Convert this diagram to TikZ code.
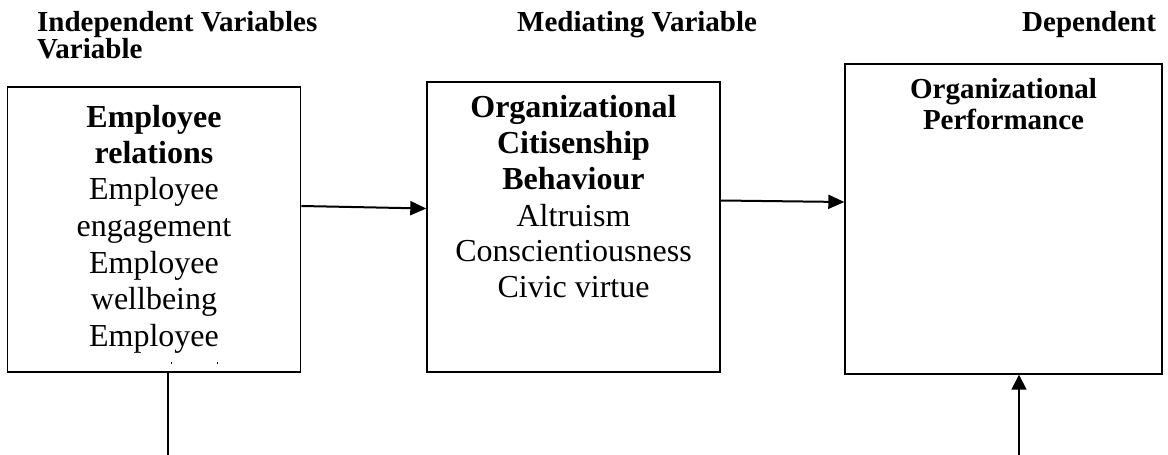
\documentclass[tikz,border=0pt]{standalone}
\usepackage{fontspec}
\setmainfont{Liberation Serif}
\usetikzlibrary{arrows.meta}
\begin{document}
\begin{tikzpicture}[x=1pt,y=-1pt,
  box/.style={draw,line width=1.4pt,inner sep=0pt,minimum width=#1},
  heading/.style={font=\bfseries\fontsize{29}{26}\selectfont,inner sep=0pt,anchor=base west},
  boxline/.style={font=\fontsize{32}{36}\selectfont,inner sep=0pt,anchor=base},
  boxbold/.style={font=\bfseries\fontsize{32}{36}\selectfont,inner sep=0pt,anchor=base},
  smallbold/.style={font=\bfseries\fontsize{29}{31}\selectfont,inner sep=0pt,anchor=base},
  link/.style={line width=2pt,-{Triangle[length=16pt,width=14pt]}},
  feed/.style={line width=1.5pt}]
\useasboundingbox (0,0) rectangle (1168,455);
% headings
\node[heading] (h1) at (37,31) {Independent Variables};
\node[heading] (h1b) at (37,58.5) {Variable};
\node[heading] (h2) at (517,31) {Mediating Variable};
\node[heading] (h3) at (1022,31) {Dependent};
% boxes
\node[box=293pt,minimum height=285pt] (b1) at (154.25,229.5) {};
\node[box=293pt,minimum height=290pt] (b2) at (573.5,227) {};
\node[box=317pt,minimum height=310pt] (b3) at (1003.5,219) {};
% box 1 text
\node[boxbold] (t11) at (154,127) {Employee};
\node[boxbold] (t12) at (154,163) {relations};
\node[boxline] (t13) at (154,199) {Employee};
\node[boxline] (t14) at (154,236) {engagement};
\node[boxline] (t15) at (154,273) {Employee};
\node[boxline] (t16) at (154,309) {wellbeing};
\node[boxline] (t17) at (154,346) {Employee};
\fill (170.5,362) rectangle (172,363.5);
\fill (216.5,362) rectangle (218,363.5);
% box 2 text
\node[boxbold] (t21) at (573.5,117) {Organizational};
\node[boxbold] (t22) at (573.5,153) {Citisenship};
\node[boxbold] (t23) at (573.5,189) {Behaviour};
\node[boxline] (t24) at (573.5,226) {Altruism};
\node[boxline] (t25) at (573.5,261.5) {Conscientiousness};
\node[boxline] (t26) at (573.5,297) {Civic virtue};
% box 3 text
\node[smallbold] (t31) at (1003.5,98) {Organizational};
\node[smallbold] (t32) at (1003.5,129) {Performance};
% connectors
\draw[link] ([yshift=23.5pt]b1.east) -- ([yshift=18.5pt]b2.west);
\draw[link] ([yshift=26.5pt]b2.east) -- ([yshift=17pt]b3.west);
\coordinate (c1) at (168,455);
\coordinate (c2) at (1019,455);
\draw[feed] ([xshift=13.75pt]b1.south) -- (c1);
\draw[feed,-{Triangle[length=15pt,width=15pt]}] (c2) -- ([xshift=15.5pt]b3.south);
\end{tikzpicture}
\end{document}
